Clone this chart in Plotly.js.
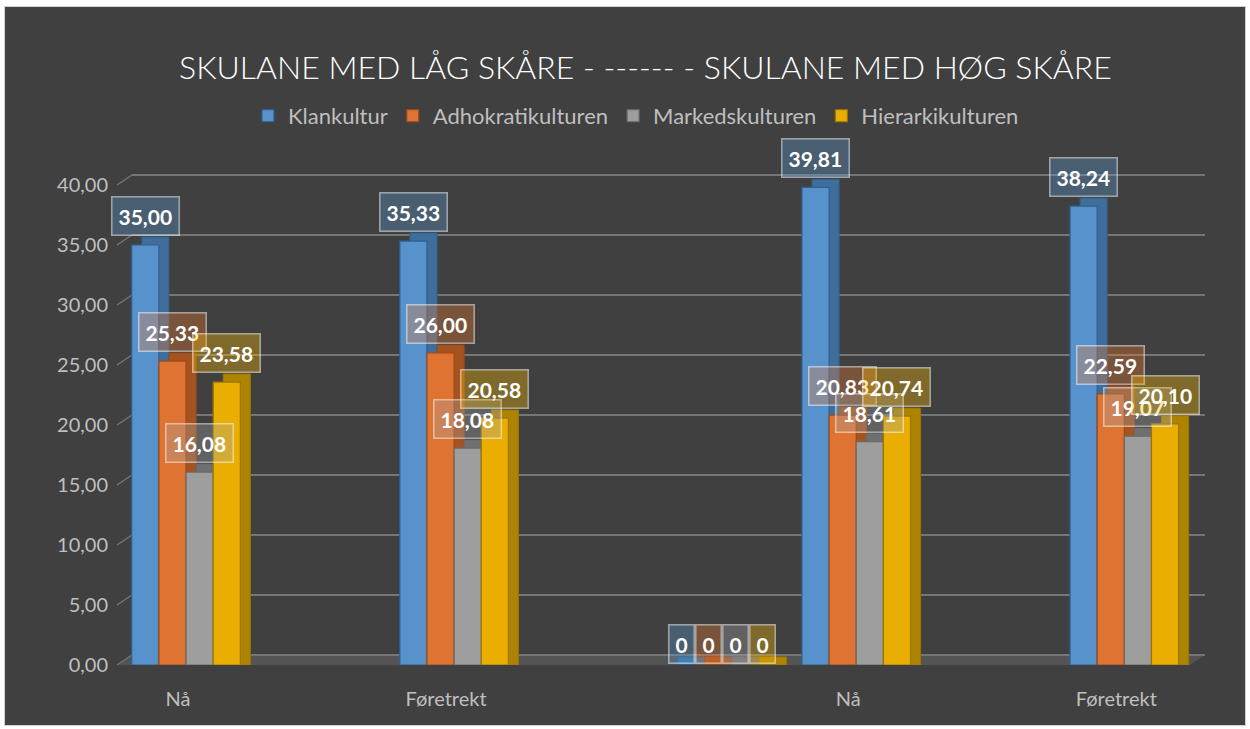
<!DOCTYPE html>
<html>
<head>
<meta charset="utf-8">
<script src="https://cdn.plot.ly/plotly-3.0.1.min.js"></script>
<style>
  html, body { margin: 0; padding: 0; background: #ffffff; }
  #chart { position: absolute; left: 5px; top: 7px; width: 1240px; height: 718px; outline: 1px solid #d0d0d0; }
</style>
</head>
<body>
<div id="chart"></div>
<script>
// ---- data ----
const categories = ["Nå", "Føretrekt", "", "Nå", "Føretrekt"];
const slots = [0, 2, 4, 5, 7];
const seriesNames = ["Klankultur", "Adhokratikulturen", "Markedskulturen", "Hierarkikulturen"];
const klankultur = [35.00, 35.33, 0, 39.81, 38.24];
const adhokratikulturen = [25.33, 26.00, 0, 20.83, 22.59];
const markedskulturen = [16.08, 18.08, 0, 18.61, 19.07];
const hierarkikulturen = [23.58, 20.58, 0, 20.74, 20.10];
const yTicks = [0, 5, 10, 15, 20, 25, 30, 35, 40];
const titleText = "SKULANE MED LÅG SKÅRE - ------ - SKULANE MED HØG SKÅRE";

const seriesValues = [klankultur, adhokratikulturen, markedskulturen, hierarkikulturen];

// ---- styles ----
const frontColors = ["#5792cd", "#df7332", "#9e9e9e", "#e9ae00"];
const sideColors  = ["#3f6e9c", "#a5541f", "#6f6f6f", "#ad8300"];
const lineColors  = ["#2f5f8e", "#9a4a1c", "#6a6a6a", "#9c7600"];
const labelBg     = ["rgba(91,155,213,0.33)", "rgba(237,125,49,0.33)", "rgba(165,165,165,0.33)", "rgba(255,192,0,0.33)"];
const gridCol = "#767676";

const plotW = 1088;           // px width of full plot area
const wallDx = 15, wallDy = 0.83;  // back wall offset (px, data units)
const barW = 0.2025, groupStart = -0.405;
const depthDx = 0.075, depthDy = 0.67;
const fontFam = "Lato, 'Open Sans', sans-serif";

const traces = [];
// empty trace so the back-wall subplot (gridlines) is drawn
traces.push({ type: "scatter", mode: "lines", x: [0, 1], y: [null, null], xaxis: "x", yaxis: "y", showlegend: false, hoverinfo: "skip" });

seriesValues.forEach((vals, i) => {
  const off = groupStart + i * barW;
  traces.push({
    type: "bar", x: slots, y: vals.map(v => v + depthDy), base: 0,
    offset: off + depthDx, width: barW,
    xaxis: "x2", yaxis: "y2",
    marker: { color: sideColors[i], line: { color: lineColors[i], width: 1 } },
    showlegend: false, hoverinfo: "skip", cliponaxis: false
  });
  traces.push({
    type: "bar", name: seriesNames[i], x: slots, y: vals,
    offset: off, width: barW,
    xaxis: "x2", yaxis: "y2",
    marker: { color: frontColors[i], line: { color: lineColors[i], width: 1.2 } },
    hoverinfo: "skip", cliponaxis: false
  });
});

// data labels
const annotations = [];
seriesValues.forEach((vals, i) => {
  vals.forEach((v, j) => {
    annotations.push({
      xref: "x2", yref: "y2",
      x: slots[j] + groupStart + (i + 0.5) * barW,
      y: v, yanchor: "bottom", xanchor: "center",
      yshift: v === 0 ? 1 : 9,
      text: v === 0 ? "0" : v.toFixed(2).replace(".", ","),
      showarrow: false,
      font: { family: fontFam, size: 21, color: "#ffffff", weight: "bold" },
      bgcolor: labelBg[i],
      bordercolor: "rgba(255,255,255,0.5)", borderwidth: 1.5, borderpad: 6
    });
  });
});

// 3D decoration: floor and wall connectors derived from axis ticks
const shapes = [];
shapes.push({
  type: "path", xref: "paper", yref: "y2", layer: "below",
  path: `M 0 0 L ${(plotW - wallDx) / plotW} 0 L 1 ${wallDy} L ${wallDx / plotW} ${wallDy} Z`,
  fillcolor: "#545454", line: { width: 0 }
});
yTicks.forEach(t => {
  shapes.push({
    type: "line", xref: "paper", yref: "y2", layer: "below",
    x0: 0, y0: t, x1: wallDx / plotW, y1: t + wallDy,
    line: { color: gridCol, width: 1.3 }
  });
});

const layout = {
  width: 1240, height: 718,
  paper_bgcolor: "#404040", plot_bgcolor: "rgba(0,0,0,0)",
  margin: { l: 112, r: 40, t: 166, b: 60 },
  separators: ", ",
  barmode: "overlay",
  font: { family: fontFam, color: "#bfbfbf" },
  title: {
    text: titleText, xref: "container", yref: "container",
    x: 0.5165, y: 0.916, xanchor: "center", yanchor: "middle",
    font: { family: fontFam, size: 32, color: "#ffffff", weight: 300 }
  },
  legend: {
    orientation: "h", x: 0.477, xanchor: "center", y: 1.116, yanchor: "middle",
    font: { family: fontFam, size: 22, color: "#bfbfbf" },
    bgcolor: "rgba(0,0,0,0)", itemwidth: 30
  },
  // back wall gridlines
  xaxis: { domain: [wallDx / plotW, 1], anchor: "y", range: [0, 1], showticklabels: false, showgrid: false, zeroline: false, showline: false, ticks: "", fixedrange: true },
  yaxis: {
    domain: [0, 1], anchor: "x", range: [-wallDy, 41 - wallDy],
    tickvals: yTicks, showticklabels: false, showgrid: true,
    gridcolor: gridCol, gridwidth: 1.3, zeroline: false, showline: false, ticks: ""
  },
  // bars
  xaxis2: {
    domain: [0, (plotW - wallDx) / plotW], anchor: "y2", range: [-0.515, 7.49],
    tickvals: slots.filter((s, j) => categories[j] !== "").map(s => s - 0.06),
    ticktext: categories.filter(c => c !== ""),
    showgrid: false, zeroline: false, showline: false, ticks: "",
    ticklabelstandoff: 20,
    tickfont: { family: fontFam, size: 20, color: "#bfbfbf" }
  },
  yaxis2: {
    domain: [0, 1], anchor: "x2", range: [0, 41],
    tickvals: yTicks, tickformat: ".2f",
    showgrid: false, zeroline: false, showline: false, ticks: "",
    ticklabelstandoff: 8,
    tickfont: { family: fontFam, size: 20, color: "#bfbfbf" }
  },
  shapes: shapes,
  annotations: annotations
};

Plotly.newPlot("chart", traces, layout, { displayModeBar: false, staticPlot: true });
</script>
</body>
</html>
